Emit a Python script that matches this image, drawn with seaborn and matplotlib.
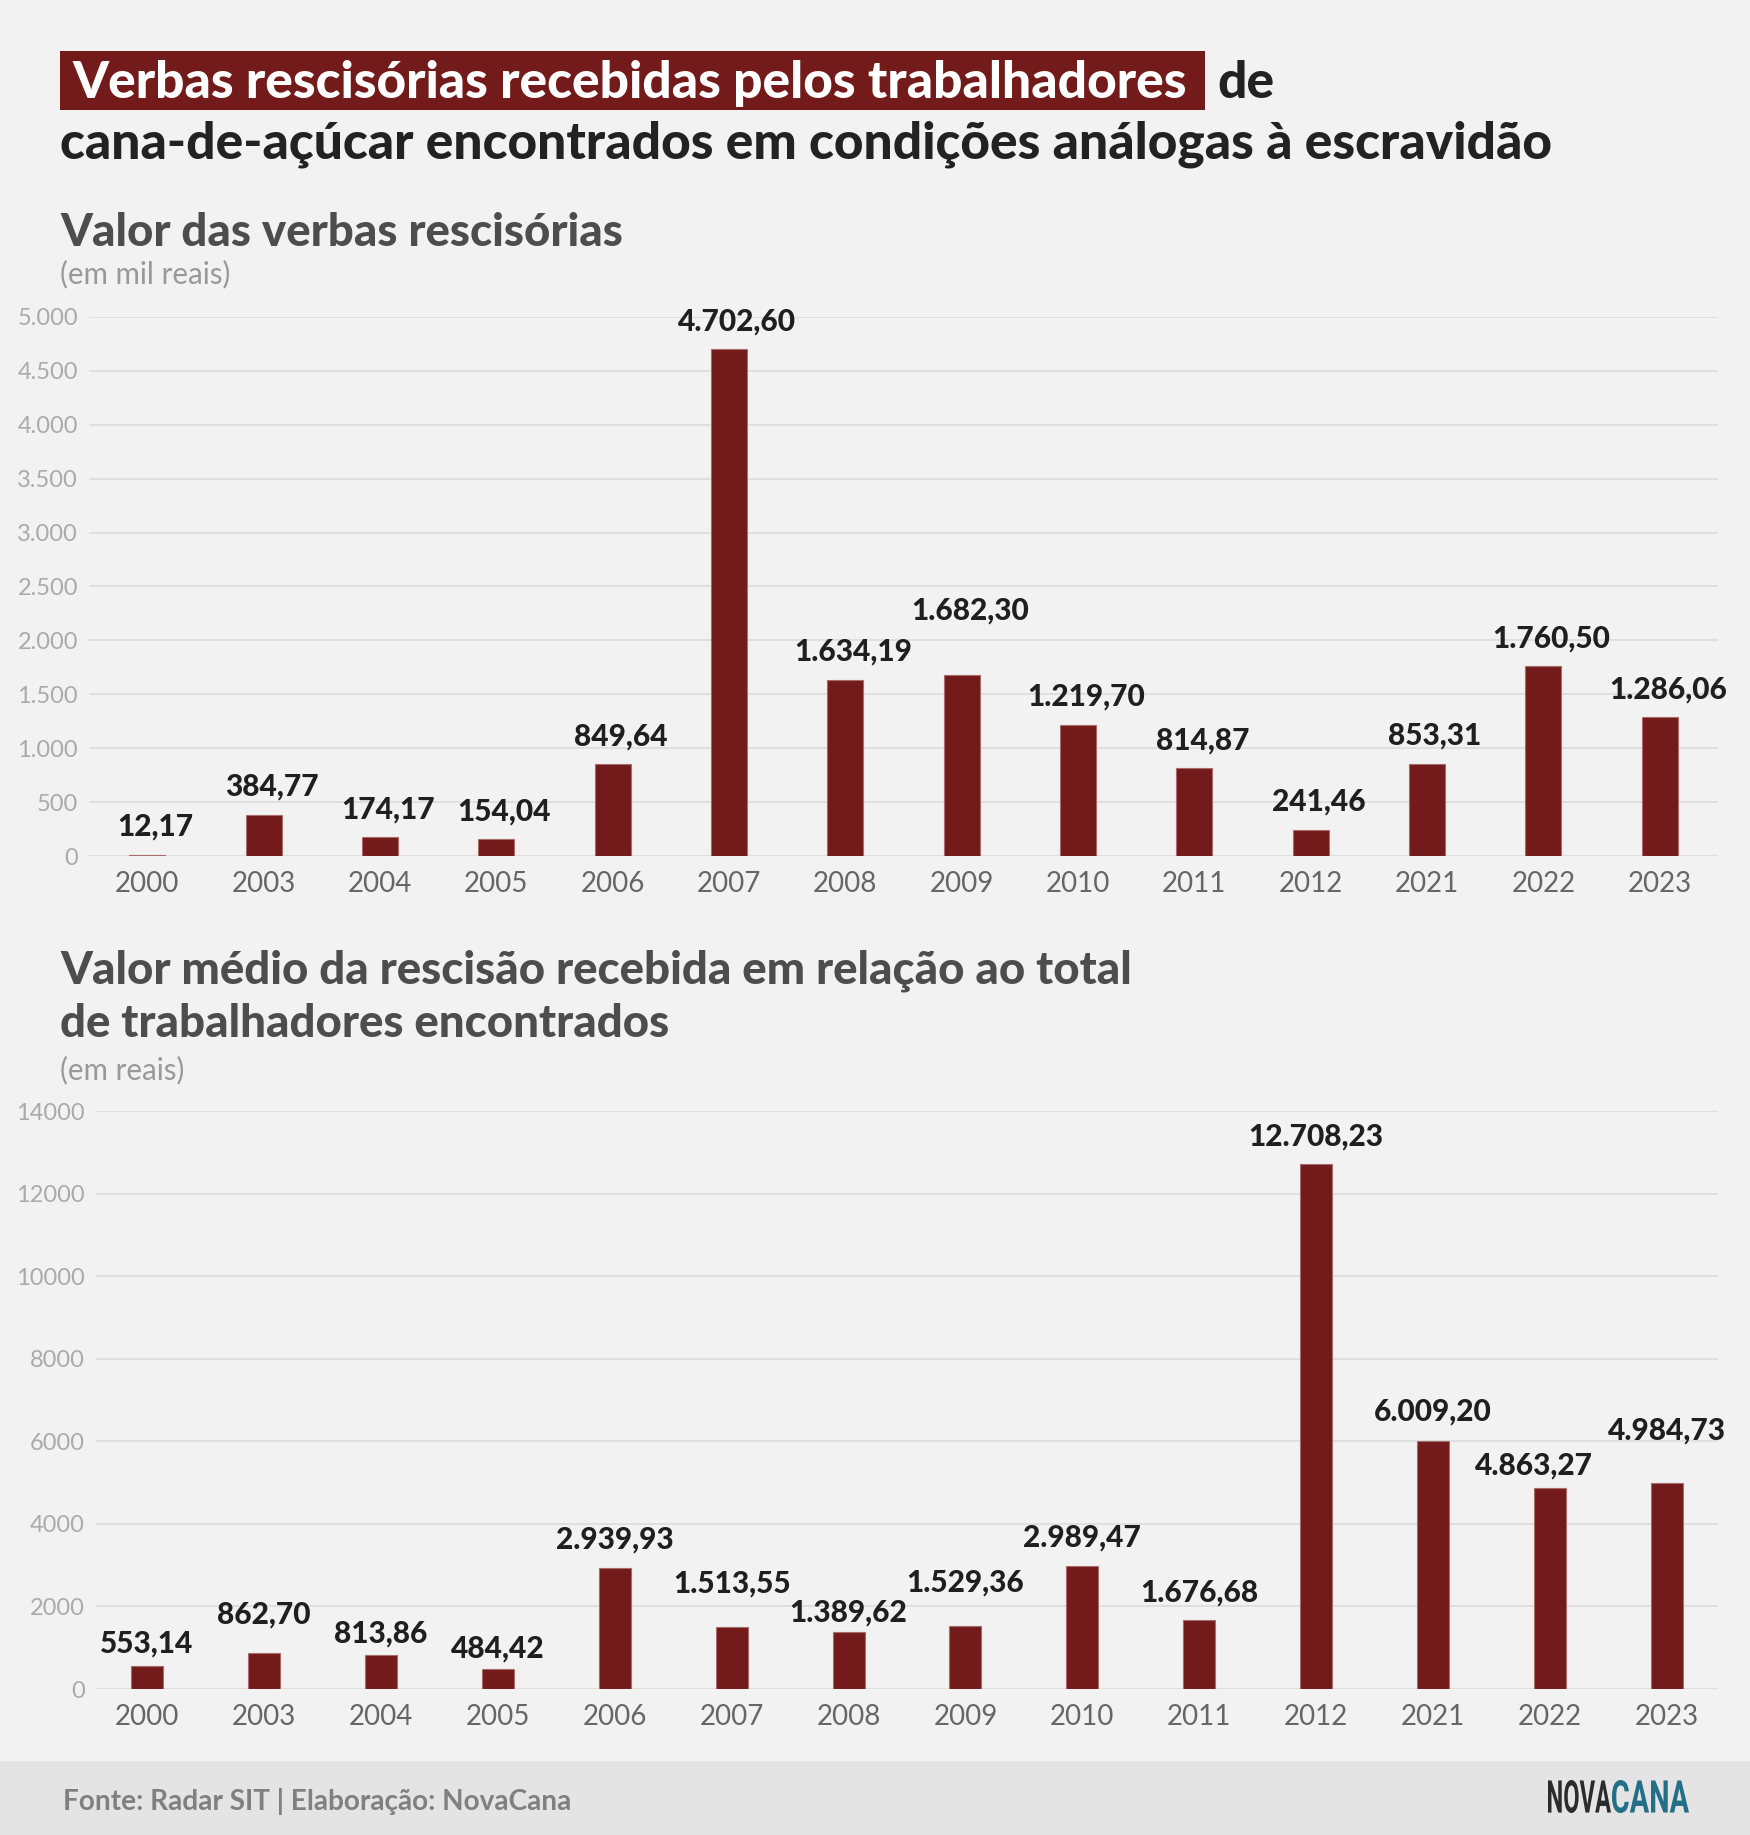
import matplotlib
matplotlib.use("Agg")
import matplotlib.pyplot as plt
import matplotlib.patches as mpatches
import matplotlib.ticker as mticker
from matplotlib.textpath import TextPath
from matplotlib.font_manager import FontProperties
from matplotlib.transforms import Affine2D, IdentityTransform
import seaborn as sns
import pandas as pd

# data
years = ["2000", "2003", "2004", "2005", "2006", "2007", "2008",
         "2009", "2010", "2011", "2012", "2021", "2022", "2023"]
verbas_mil = [12.17, 384.77, 174.17, 154.04, 849.64, 4702.60, 1634.19,
              1682.30, 1219.70, 814.87, 241.46, 853.31, 1760.50, 1286.06]
media_reais = [553.14, 862.70, 813.86, 484.42, 2939.93, 1513.55, 1389.62,
               1529.36, 2989.47, 1676.68, 12708.23, 6009.20, 4863.27, 4984.73]

top_yticks = [0, 500, 1000, 1500, 2000, 2500, 3000, 3500, 4000, 4500, 5000]
bot_yticks = [0, 2000, 4000, 6000, 8000, 10000, 12000, 14000]

# label nudges (pixels) to avoid collisions, as in the original
top_label_dy = {"2009": 64}
bot_label_dy = {"2000": 23, "2003": 39, "2004": 22, "2005": 20, "2006": 28,
                "2007": 43, "2008": 19, "2009": 43, "2010": 28, "2011": 27,
                "2012": 28, "2021": 29, "2022": 23, "2023": 53}
bot_label_dx = {"2022": -16}

W, H = 1750, 1835
BG = "#f2f2f2"
RED = "#731a1a"
FONT = ["Lato", "DejaVu Sans"]

sns.set_theme(style="white")
plt.rcParams["font.family"] = FONT


def br(v, dec=2):
    s = f"{v:,.{dec}f}"
    return s.replace(",", "X").replace(".", ",").replace("X", ".")


def fx(x):
    return x / W


def fy(y):
    return 1 - y / H


fig = plt.figure(figsize=(W / 100, H / 100), dpi=100, facecolor=BG)
renderer = fig.canvas.get_renderer()


def fit(t, width_px):
    w = t.get_window_extent(renderer).width
    t.set_fontsize(t.get_fontsize() * width_px / w)
    return t.get_fontsize()


# footer band
fig.patches.append(mpatches.Rectangle((0, 0), 1, fy(1761), transform=fig.transFigure,
                                      facecolor="#e4e4e4", edgecolor="none", zorder=0))

# title
fig.patches.append(mpatches.Rectangle((fx(60), fy(110)), fx(1205 - 60), (110 - 51) / H,
                                      transform=fig.transFigure, facecolor=RED,
                                      edgecolor="none", zorder=1))
t2 = fig.text(fx(60), fy(158), "cana-de-açúcar encontrados em condições análogas à escravidão",
              color="#222222", fontsize=34, fontweight="black", va="baseline")
tsize = fit(t2, 1496)
fig.text(fx(72), fy(98), "Verbas rescisórias recebidas pelos trabalhadores",
         color="white", fontsize=tsize, fontweight="black", va="baseline", zorder=2)
fig.text(fx(1217), fy(98), "de", color="#222222", fontsize=tsize, fontweight="black",
         va="baseline")

# subtitles
s1 = fig.text(fx(60), fy(246), "Valor das verbas rescisórias", color="#4d4d4d",
              fontsize=30, fontweight="black", va="baseline")
fit(s1, 563)
u1 = fig.text(fx(60), fy(283), "(em mil reais)", color="#999999", fontsize=20,
              va="baseline")
fit(u1, 171)

s2 = fig.text(fx(60), fy(983), "Valor médio da rescisão recebida em relação ao total",
              color="#4d4d4d", fontsize=30, fontweight="black", va="baseline")
ssize = fit(s2, 1070)
fig.text(fx(60), fy(1037), "de trabalhadores encontrados",
         color="#4d4d4d", fontsize=ssize, fontweight="black", va="baseline")
u2 = fig.text(fx(60), fy(1079), "(em reais)", color="#999999", fontsize=20,
              va="baseline")
fit(u2, 125)

# footer
ft = fig.text(fx(63), fy(1810), "Fonte: Radar SIT | Elaboração: NovaCana", color="#808080",
              fontsize=20, fontweight="bold", va="baseline")
fit(ft, 509)

# logo: stretched text paths into the logo box
logo_fp = FontProperties(family="Roboto", weight="bold")
for word, color, x0, x1 in [("NOVA", "#2b2b2b", 1548, 1611), ("CANA", "#236f87", 1612, 1689)]:
    tp = TextPath((0, 0), word, size=40, prop=logo_fp)
    ext = tp.get_extents()
    sx = (x1 - x0) / ext.width
    sy = (1813 - 1780) / ext.height
    tr = Affine2D().translate(-ext.x0, -ext.y0).scale(sx, sy).translate(x0, H - 1813)
    fig.patches.append(mpatches.PathPatch(tr.transform_path(tp), facecolor=color,
                                          edgecolor="none", transform=IdentityTransform()))


def draw_panel(rect_px, values, yticks, ylim, xlim, width, fmt_tick, dy, dx, default_dy):
    left, top, right, bottom = rect_px
    ax = fig.add_axes([fx(left), fy(bottom), fx(right - left), (bottom - top) / H])
    ax.set_facecolor("none")
    df = pd.DataFrame({"ano": years, "valor": values})
    sns.barplot(data=df, x="ano", y="valor", color=RED, saturation=1, width=width,
                edgecolor="#a86a6a", linewidth=0.8, ax=ax, zorder=3)
    ax.set_xlim(*xlim)
    ax.set_ylim(*ylim)
    ax.set_yticks(yticks)
    ax.yaxis.set_major_formatter(mticker.FuncFormatter(fmt_tick))
    ax.grid(axis="y", color="#dcdcdc", linewidth=1.2, zorder=0)
    ax.grid(axis="x", visible=False)
    ax.set_axisbelow(True)
    for s in ax.spines.values():
        s.set_visible(False)
    ax.tick_params(axis="y", length=0, pad=8, labelsize=17, labelcolor="#aaaaaa")
    ax.tick_params(axis="x", length=0, pad=11, labelsize=20, labelcolor="#666666")
    ax.set_xlabel("")
    ax.set_ylabel("")
    for i, (yr, v) in enumerate(zip(years, values)):
        ax.annotate(br(v), (i, v), xytext=(dx.get(yr, 0), dy.get(yr, default_dy)),
                    textcoords="offset pixels", ha="center", va="center",
                    fontsize=21.5, fontweight="black", color="#1f1f1f",
                    annotation_clip=False, zorder=4)
    return ax


draw_panel((89, 317, 1718, 856), verbas_mil, top_yticks, (0, 5000), (-0.5, 13.5),
           0.31, lambda v, p: br(v, 0), top_label_dy, {y: 8 for y in years}, 28)
draw_panel((96, 1111, 1718, 1689), media_reais, bot_yticks, (0, 14000), (-0.436, 13.436),
           0.274, lambda v, p: f"{int(v)}", bot_label_dy, bot_label_dx, 28)

fig.savefig("out.png", dpi=100, facecolor=BG)
